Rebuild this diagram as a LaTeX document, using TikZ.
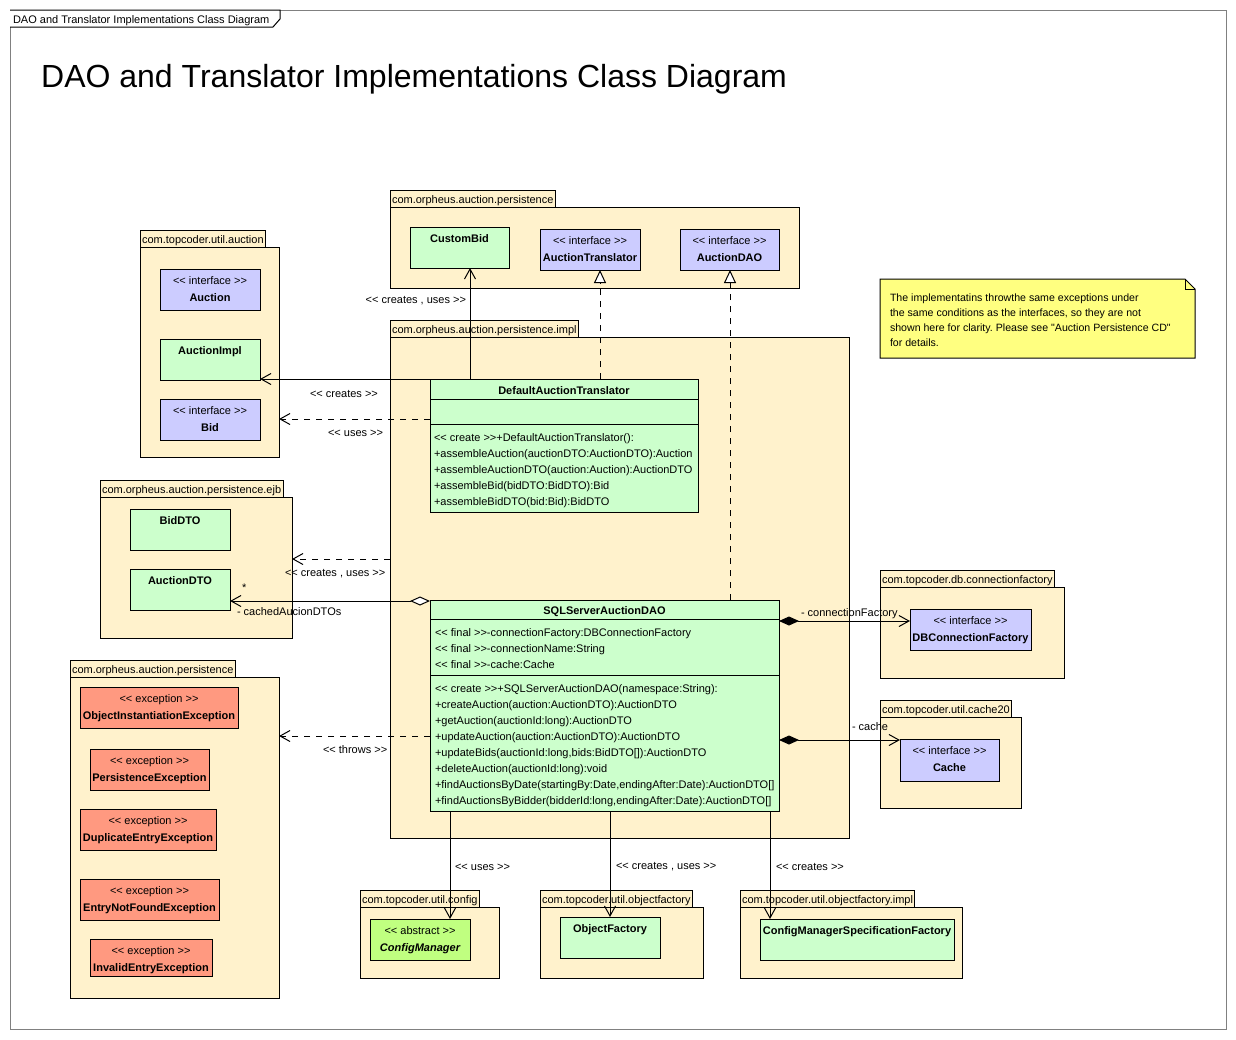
\documentclass[tikz,border=0pt]{standalone}
\usepackage{fontspec}
\setmainfont{Liberation Sans}[Ligatures=TeXOff]
\usetikzlibrary{arrows.meta,calc}
\definecolor{pkgfill}{HTML}{FFF2CC}
\definecolor{clsgreen}{HTML}{CCFFCC}
\definecolor{intfblue}{HTML}{CCCCFF}
\definecolor{excred}{HTML}{FF9980}
\definecolor{absgreen}{HTML}{C0FF80}
\definecolor{noteyellow}{HTML}{FFFF80}
\definecolor{framegray}{HTML}{808080}
\tikzset{
  txt/.style={inner sep=0pt, outer sep=0pt, yshift=-2pt, font=\fontsize{11}{13}\selectfont},
  nm/.style={txt, font=\fontsize{11}{13}\selectfont\bfseries, anchor=mid},
  st/.style={txt, anchor=mid},
  op/.style={txt, anchor=mid west},
  pkgbody/.style={draw, fill=pkgfill, anchor=north west, inner sep=0pt, outer sep=0pt, line width=1pt},
  pkgtab/.style={draw, fill=pkgfill, anchor=south west, inner xsep=2pt, inner ysep=0pt, outer sep=0pt, minimum height=17pt, text height=10pt, text depth=0pt, line width=1pt, font=\fontsize{11}{13}\selectfont},
  cls/.style={draw, anchor=north west, inner sep=0pt, outer sep=0pt, line width=1pt},
  conn/.style={line width=1pt},
  dep/.style={conn, -{Straight Barb[length=10pt,width=11pt]}},
  ddep/.style={dep, dash pattern=on 6pt off 6pt},
  realize/.style={conn, dash pattern=on 6pt off 6pt, -{Triangle[length=13pt,width=12pt,fill=white]}},
  aggr/.style={conn, {Diamond[length=20pt,width=9pt,fill=white]}-{Straight Barb[length=10pt,width=11pt]}},
  comp/.style={conn, {Diamond[length=20pt,width=9pt]}-{Straight Barb[length=10pt,width=11pt]}},
}
\begin{document}
\frenchspacing
\begin{tikzpicture}[x=1pt,y=-1pt]
\useasboundingbox (0,0) rectangle (1236,1039);
% frame
\draw[framegray, line width=1pt] (10,10) rectangle (1226,1029);
\draw[line width=1pt, fill=white] (10,10) -- (280,10) -- (280,19) -- (273,27) -- (10,27);
\node[op] (framelbl) at (13,19) {DAO and Translator Implementations Class Diagram};
\node[inner sep=0pt, anchor=base west, font=\fontsize{32}{38}\selectfont] (title) at (41,87) {DAO and Translator Implementations Class Diagram};

% packages
\node[pkgbody, minimum width=409pt, minimum height=81pt] (pA) at (390,207) {};
\node[pkgtab] (pAt) at (pA.north west) {com.orpheus.auction.persistence};
\node[pkgbody, minimum width=459pt, minimum height=501pt] (pI) at (390,337) {};
\node[pkgtab] (pIt) at (pI.north west) {com.orpheus.auction.persistence.impl};
\node[pkgbody, minimum width=139pt, minimum height=210pt] (pU) at (140,247) {};
\node[pkgtab] (pUt) at (pU.north west) {com.topcoder.util.auction};
\node[pkgbody, minimum width=192pt, minimum height=141pt] (pE) at (100,497) {};
\node[pkgtab] (pEt) at (pE.north west) {com.orpheus.auction.persistence.ejb};
\node[pkgbody, minimum width=209pt, minimum height=321pt] (pX) at (70,677) {};
\node[pkgtab] (pXt) at (pX.north west) {com.orpheus.auction.persistence};
\node[pkgbody, minimum width=184pt, minimum height=91pt] (pC) at (880,587) {};
\node[pkgtab] (pCt) at (pC.north west) {com.topcoder.db.connectionfactory};
\node[pkgbody, minimum width=141pt, minimum height=91pt] (pH) at (880,717) {};
\node[pkgtab] (pHt) at (pH.north west) {com.topcoder.util.cache20};
\node[pkgbody, minimum width=139pt, minimum height=71pt] (pG) at (360,907) {};
\node[pkgtab] (pGt) at (pG.north west) {com.topcoder.util.config};
\node[pkgbody, minimum width=163pt, minimum height=71pt] (pO) at (540,907) {};
\node[pkgtab] (pOt) at (pO.north west) {com.topcoder.util.objectfactory};
\node[pkgbody, minimum width=222pt, minimum height=71pt] (pF) at (740,907) {};
\node[pkgtab] (pFt) at (pF.north west) {com.topcoder.util.objectfactory.impl};

% note
\draw[line width=1pt, fill=noteyellow] (880,279) -- (1185,279) -- (1195,289) -- (1195,358) -- (880,358) -- cycle;
\draw[line width=1pt] (1185,279) -- (1185,289) -- (1195,289);
\foreach \t [count=\i] in {{The implementatins throwthe same exceptions under},
  {the same conditions as the interfaces, so they are not},
  {shown here for clarity. Please see "Auction Persistence CD"},
  {for details.}}
  \node[op, font=\fontsize{10.6}{13}\selectfont] (note\i) at (890,{282+15*\i}) {\t};

% classes in persistence
\node[cls, fill=clsgreen, minimum width=99pt, minimum height=41pt] (cbid) at (410,227) {};
\node[nm, yshift=-11pt] (cbidn) at (cbid.north) {CustomBid};
\node[cls, fill=intfblue, minimum width=100pt, minimum height=41pt] (atr) at (540,229) {};
\node[st, yshift=-11pt] (atrs) at (atr.north) {<< interface >>};
\node[nm, yshift=-28pt] (atrn) at (atr.north) {AuctionTranslator};
\node[cls, fill=intfblue, minimum width=99pt, minimum height=41pt] (adao) at (680,229) {};
\node[st, yshift=-11pt] (adaos) at (adao.north) {<< interface >>};
\node[nm, yshift=-28pt] (adaon) at (adao.north) {AuctionDAO};

% util.auction
\node[cls, fill=intfblue, minimum width=100pt, minimum height=41pt] (auc) at (160,269) {};
\node[st, yshift=-11pt] (aucs) at (auc.north) {<< interface >>};
\node[nm, yshift=-28pt] (aucn) at (auc.north) {Auction};
\node[cls, fill=clsgreen, minimum width=100pt, minimum height=41pt] (aimpl) at (160,339) {};
\node[nm, yshift=-11pt] (aimpln) at (aimpl.north) {AuctionImpl};
\node[cls, fill=intfblue, minimum width=100pt, minimum height=41pt] (bid) at (160,399) {};
\node[st, yshift=-11pt] (bids) at (bid.north) {<< interface >>};
\node[nm, yshift=-28pt] (bidn) at (bid.north) {Bid};

% ejb
\node[cls, fill=clsgreen, minimum width=100pt, minimum height=41pt] (bdto) at (130,509) {};
\node[nm, yshift=-11pt] (bdton) at (bdto.north) {BidDTO};
\node[cls, fill=clsgreen, minimum width=100pt, minimum height=41pt] (adto) at (130,569) {};
\node[nm, yshift=-11pt] (adton) at (adto.north) {AuctionDTO};

% exceptions
\node[cls, fill=excred, minimum width=158pt, minimum height=41pt] (oie) at (80,687) {};
\node[st, yshift=-11pt] (oies) at (oie.north) {<< exception >>};
\node[nm, yshift=-28pt] (oien) at (oie.north) {ObjectInstantiationException};
\node[cls, fill=excred, minimum width=119pt, minimum height=41pt] (pe) at (90,749) {};
\node[st, yshift=-11pt] (pes) at (pe.north) {<< exception >>};
\node[nm, yshift=-28pt] (pen) at (pe.north) {PersistenceException};
\node[cls, fill=excred, minimum width=136pt, minimum height=41pt] (dee) at (80,809) {};
\node[st, yshift=-11pt] (dees) at (dee.north) {<< exception >>};
\node[nm, yshift=-28pt] (deen) at (dee.north) {DuplicateEntryException};
\node[cls, fill=excred, minimum width=139pt, minimum height=41pt] (enfe) at (80,879) {};
\node[st, yshift=-11pt] (enfes) at (enfe.north) {<< exception >>};
\node[nm, yshift=-28pt] (enfen) at (enfe.north) {EntryNotFoundException};
\node[cls, fill=excred, minimum width=122pt, minimum height=37pt] (iee) at (90,939) {};
\node[st, yshift=-11pt] (iees) at (iee.north) {<< exception >>};
\node[nm, yshift=-28pt] (ieen) at (iee.north) {InvalidEntryException};

% right side
\node[cls, fill=intfblue, minimum width=121pt, minimum height=41pt] (dbcf) at (910,609) {};
\node[st, yshift=-11pt] (dbcfs) at (dbcf.north) {<< interface >>};
\node[nm, yshift=-28pt] (dbcfn) at (dbcf.north) {DBConnectionFactory};
\node[cls, fill=intfblue, minimum width=99pt, minimum height=42pt] (cache) at (900,739) {};
\node[st, yshift=-11pt] (caches) at (cache.north) {<< interface >>};
\node[nm, yshift=-28pt] (cachen) at (cache.north) {Cache};

% bottom
\node[cls, fill=absgreen, minimum width=100pt, minimum height=41pt] (cfgm) at (370,919) {};
\node[st, yshift=-11pt] (cfgms) at (cfgm.north) {<< abstract >>};
\node[nm, yshift=-28pt, font=\fontsize{11}{13}\selectfont\bfseries\itshape] (cfgmn) at (cfgm.north) {ConfigManager};
\node[cls, fill=clsgreen, minimum width=100pt, minimum height=41pt] (objf) at (560,917) {};
\node[nm, yshift=-11pt] (objfn) at (objf.north) {ObjectFactory};
\node[cls, fill=clsgreen, minimum width=194pt, minimum height=41pt] (cmsf) at (760,919) {};
\node[nm, yshift=-11pt] (cmsfn) at (cmsf.north) {ConfigManagerSpecificationFactory};

% DefaultAuctionTranslator
\node[cls, fill=clsgreen, minimum width=268pt, minimum height=133pt] (dat) at (430,379) {};
\draw[line width=1pt] ([yshift=-20pt]dat.north west) -- ([yshift=-20pt]dat.north east);
\draw[line width=1pt] ([yshift=-45pt]dat.north west) -- ([yshift=-45pt]dat.north east);
\node[nm, yshift=-11pt] (datn) at (dat.north) {DefaultAuctionTranslator};
\foreach \t [count=\i] in {{<< create >>+DefaultAuctionTranslator():},
  {+assembleAuction(auctionDTO:AuctionDTO):Auction},
  {+assembleAuctionDTO(auction:Auction):AuctionDTO},
  {+assembleBid(bidDTO:BidDTO):Bid},
  {+assembleBidDTO(bid:Bid):BidDTO}}
  \node[op] (datop\i) at (434,{421+16*\i}) {\t};

% SQLServerAuctionDAO
\node[cls, fill=clsgreen, minimum width=349pt, minimum height=211pt] (dao) at (430,600) {};
\draw[line width=1pt] ([yshift=-19pt]dao.north west) -- ([yshift=-19pt]dao.north east);
\draw[line width=1pt] ([yshift=-75pt]dao.north west) -- ([yshift=-75pt]dao.north east);
\node[nm, yshift=-10pt] (daon) at (dao.north) {SQLServerAuctionDAO};
\foreach \t [count=\i] in {{<< final >>-connectionFactory:DBConnectionFactory},
  {<< final >>-connectionName:String},
  {<< final >>-cache:Cache}}
  \node[op] (daoat\i) at (435,{616+16*\i}) {\t};
\foreach \t [count=\i] in {{<< create >>+SQLServerAuctionDAO(namespace:String):},
  {+createAuction(auction:AuctionDTO):AuctionDTO},
  {+getAuction(auctionId:long):AuctionDTO},
  {+updateAuction(auction:AuctionDTO):AuctionDTO},
  {+updateBids(auctionId:long,bids:BidDTO[]):AuctionDTO},
  {+deleteAuction(auctionId:long):void},
  {+findAuctionsByDate(startingBy:Date,endingAfter:Date):AuctionDTO[]},
  {+findAuctionsByBidder(bidderId:long,endingAfter:Date):AuctionDTO[]}}
  \node[op] (daoop\i) at (435,{672+16*\i}) {\t};

% connectors
\coordinate (a1) at ([xshift=40pt]dat.north west);
\draw[dep] (a1) -- (a1 |- cbid.south);
\draw[dep] (dat.north west) -- (dat.north west -| aimpl.east);
\coordinate (a2) at ([yshift=-40pt]dat.north west);
\draw[ddep] (a2) -- (a2 -| pU.east);
\coordinate (a3) at ([xshift=170pt]dat.north west);
\draw[realize] (a3) -- (a3 |- atr.south);
\coordinate (a4) at ([xshift=300pt]dao.north west);
\draw[realize] (a4) -- (a4 |- adao.south);
\coordinate (a5) at ([yshift=-222pt]pI.north west);
\draw[ddep] (a5) -- (a5 -| pE.east);
\coordinate (a6) at ([yshift=-1pt]dao.north west);
\draw[aggr] (a6) -- (a6 -| adto.east);
\coordinate (a7) at ([yshift=-136pt]dao.north west);
\draw[ddep] (a7) -- (a7 -| pX.east);
\coordinate (a8) at ([yshift=-21pt]dao.north east);
\draw[comp] (a8) -- (a8 -| dbcf.west);
\coordinate (a9) at ([yshift=-140pt]dao.north east);
\draw[comp] (a9) -- (a9 -| cache.west);
\coordinate (a10) at ([xshift=20pt]dao.south west);
\draw[dep] (a10) -- (a10 |- cfgm.north);
\coordinate (a11) at ([xshift=180pt]dao.south west);
\draw[dep] (a11) -- (a11 |- objf.north);
\coordinate (a12) at ([xshift=340pt]dao.south west);
\draw[dep] (a12) -- (a12 |- cmsf.north);

% connector labels
\node[txt, anchor=mid east] (l1) at (466,299) {<< creates , uses >>};
\node[op] (l2) at (310,393) {<< creates >>};
\node[op] (l3) at (328,432) {<< uses >>};
\node[op] (l4) at (285,572) {<< creates , uses >>};
\node[op] (l5) at (242,587) {*};
\node[op] (l6) at (237,611) {- cachedAucionDTOs};
\node[op] (l7) at (323,749) {<< throws >>};
\node[op] (l8) at (801,612) {- connectionFactory};
\node[op] (l9) at (852,726) {- cache};
\node[op] (l10) at (455,866) {<< uses >>};
\node[op] (l11) at (616,865) {<< creates , uses >>};
\node[op] (l12) at (776,866) {<< creates >>};
\end{tikzpicture}
\end{document}
